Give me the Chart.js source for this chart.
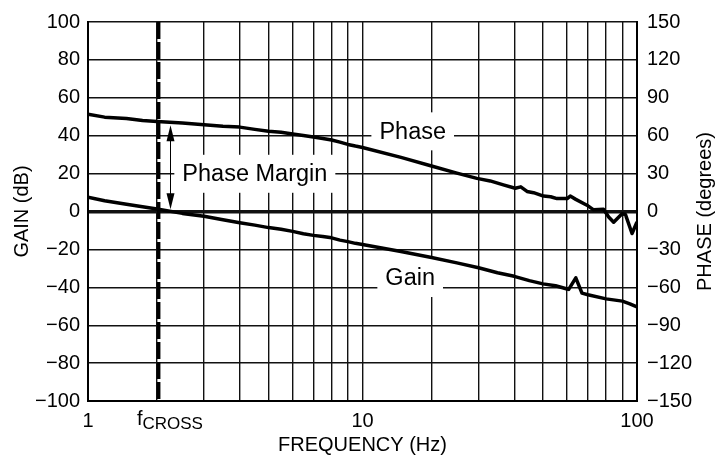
<!DOCTYPE html>
<html>
<head>
<meta charset="utf-8">
<script src="https://cdn.jsdelivr.net/npm/chart.js@4.4.0/dist/chart.umd.min.js"></script>
<style>
  html, body { margin: 0; padding: 0; background: #fff; }
</style>
</head>
<body>
<canvas id="bode" width="719" height="462"></canvas>
<script>
// values
const phaseFreq = [1, 1.2, 1.5, 1.75, 2, 2.5, 3, 3.5, 4, 4.5, 5, 5.5, 6, 6.5, 7, 7.5, 8, 8.5, 9, 9.5,
  10, 15, 20, 25, 29.6, 33, 36.7, 40.3, 42.1, 44.2, 46.5, 50.2, 53, 55.6, 60, 61.4, 64, 69.5, 73,
  78.5, 81.5, 84.5, 89.8, 92, 96.5, 100];
const phaseDeg = [77, 74.7, 73.7, 72, 71.2, 70, 68.7, 67.5, 66.8, 65, 63.5, 62.7, 61.4, 60.2, 59, 57.8, 56.6, 54.9, 53.1, 51.8,
  50.7, 42.8, 36, 30.4, 26.2, 24.2, 21.1, 18.4, 19.5, 15.9, 14.9, 12.2, 11.7, 10.2, 10.2, 12.2, 9.6, 5, 1.3,
  1.8, -4.4, -8.5, -1.8, -2.3, -17.4, -8.3];

const gainFreq = [1, 1.2, 1.5, 1.75, 2, 2.5, 3, 3.5, 4, 4.5, 5, 5.5, 6, 6.5, 7, 7.5, 8, 8.5, 9, 9.5,
  10, 15, 20, 25, 30, 35, 40, 45, 50, 55, 60, 60.7, 64, 67, 70, 80, 90, 95, 100];
const gainDb = [7.5, 5.7, 3.8, 2.5, 1.3, -1, -2.5, -4.4, -5.9, -7.2, -8.5, -9.4, -10.5, -11.7, -12.6, -13.2, -13.9, -15.1, -15.9, -16.8,
  -17.4, -21.1, -24.3, -27.1, -29.7, -32.3, -34.2, -36.5, -38.2, -39.2, -40.9, -41.1, -35, -43.1, -43.9, -46.1, -47.3, -48.7, -50.4];

const freqTicks = [1, 2, 3, 4, 5, 6, 7, 8, 9, 10, 20, 30, 40, 50, 60, 70, 80, 90, 100];
const freqTickLabels = [1, 10, 100];
const gainTicks = [-100, -80, -60, -40, -20, 0, 20, 40, 60, 80, 100];
const phaseTicks = [-150, -120, -90, -60, -30, 0, 30, 60, 90, 120, 150];

const fCross = 2.03;
const marginFreq = 2.25;     // where the phase margin arrow sits
const marginTop = 45.5;      // gain units (dB)
const marginBottom = 1.2;

const FONT = "'Liberation Sans', Arial, Helvetica, sans-serif";

// the printed grid is not a true log grid: each decade is squeezed toward its start
const WARP_C = 0.7;
function warp(v) {
    const d = Math.floor(Math.log10(v) + 1e-9);
    const m = v / Math.pow(10, d);
    return d + Math.log10((m + WARP_C) / (1 + WARP_C)) / Math.log10((10 + WARP_C) / (1 + WARP_C));
}
function unwarp(u) {
    const d = Math.floor(u);
    const frac = u - d;
    const m = (1 + WARP_C) * Math.pow((10 + WARP_C) / (1 + WARP_C), frac) - WARP_C;
    return m * Math.pow(10, d);
}

class WarpedLogScale extends Chart.LogarithmicScale {
    getPixelForValue(value) {
        if (value === undefined || value === null || isNaN(value)) return NaN;
        const a = warp(this.min), b = warp(this.max);
        return this.getPixelForDecimal((warp(value) - a) / (b - a));
    }
    getValueForPixel(pixel) {
        const a = warp(this.min), b = warp(this.max);
        return unwarp(a + this.getDecimalForPixel(pixel) * (b - a));
    }
}
WarpedLogScale.id = 'warpedLog';
WarpedLogScale.defaults = Chart.LogarithmicScale.defaults;
Chart.register(WarpedLogScale);

function minus(v) {
    return v < 0 ? '\u2212' + Math.abs(v) : String(v);
}

function labelBox(ctx, text, cx, cy) {
    ctx.font = '23.5px ' + FONT;
    const w = ctx.measureText(text).width + 16;
    const h = 38;
    ctx.fillStyle = '#fff';
    ctx.fillRect(cx - w / 2, cy - h / 2, w, h);
    ctx.fillStyle = '#000';
    ctx.textAlign = 'center';
    ctx.textBaseline = 'middle';
    ctx.fillText(text, cx, cy + 1);
}

const annotations = {
    id: 'annotations',
    beforeDatasetsDraw(chart) {
        const {ctx, chartArea: a, scales: {x, y}} = chart;
        ctx.save();
        labelBox(ctx, 'Phase', x.getPixelForValue(16.8), y.getPixelForValue(42.3));
        labelBox(ctx, 'Gain', x.getPixelForValue(16.4), y.getPixelForValue(-35.1));
        labelBox(ctx, 'Phase Margin', x.getPixelForValue(4.5), y.getPixelForValue(19.9));

        // f_cross marker
        const xc = x.getPixelForValue(fCross);
        ctx.strokeStyle = '#000';
        ctx.lineWidth = 3.5;
        ctx.setLineDash([17, 3]);
        ctx.beginPath();
        ctx.moveTo(xc, a.top);
        ctx.lineTo(xc, a.bottom);
        ctx.stroke();
        ctx.setLineDash([]);

        // phase margin arrow
        const xm = Math.round(x.getPixelForValue(marginFreq)) + 0.5;
        const y1 = y.getPixelForValue(marginTop);
        const y2 = y.getPixelForValue(marginBottom);
        ctx.lineWidth = 1;
        ctx.beginPath();
        ctx.moveTo(xm, y1 + 10);
        ctx.lineTo(xm, y2 - 10);
        ctx.stroke();
        ctx.fillStyle = '#000';
        ctx.beginPath();
        ctx.moveTo(xm, y1);
        ctx.lineTo(xm - 4, y1 + 16);
        ctx.lineTo(xm + 4, y1 + 16);
        ctx.closePath();
        ctx.fill();
        ctx.beginPath();
        ctx.moveTo(xm, y2);
        ctx.lineTo(xm - 4, y2 - 16);
        ctx.lineTo(xm + 4, y2 - 16);
        ctx.closePath();
        ctx.fill();
        ctx.restore();
    },
    afterDraw(chart) {
        const {ctx, chartArea: a} = chart;
        ctx.save();
        ctx.fillStyle = '#000';
        ctx.font = '20px ' + FONT;
        ctx.textAlign = 'center';
        ctx.textBaseline = 'middle';
        ctx.fillText('FREQUENCY (Hz)', (a.left + a.right) / 2, 445);

        ctx.save();
        ctx.translate(22, (a.top + a.bottom) / 2);
        ctx.rotate(-Math.PI / 2);
        ctx.fillText('GAIN (dB)', 0, 0);
        ctx.restore();

        ctx.save();
        ctx.translate(705, (a.top + a.bottom) / 2);
        ctx.rotate(-Math.PI / 2);
        ctx.fillText('PHASE (degrees)', 0, 0);
        ctx.restore();

        // f_CROSS label under the axis
        ctx.textAlign = 'left';
        ctx.textBaseline = 'alphabetic';
        ctx.font = '20px ' + FONT;
        ctx.fillText('f', 137, 425);
        ctx.font = '17px ' + FONT;
        ctx.fillText('CROSS', 142.5, 429);
        ctx.restore();
    }
};

const tickFont = { family: FONT, size: 20 };

new Chart(document.getElementById('bode'), {
    type: 'line',
    data: {
        datasets: [{
            label: 'Phase',
            data: phaseFreq.map((f, i) => ({ x: f, y: phaseDeg[i] })),
            yAxisID: 'y1',
            borderColor: '#000',
            borderWidth: 3.5,
            borderJoinStyle: 'round',
            pointRadius: 0,
            fill: false,
            tension: 0
        }, {
            label: 'Gain',
            data: gainFreq.map((f, i) => ({ x: f, y: gainDb[i] })),
            yAxisID: 'y',
            borderColor: '#000',
            borderWidth: 3.5,
            borderJoinStyle: 'round',
            pointRadius: 0,
            fill: false,
            tension: 0
        }]
    },
    options: {
        responsive: false,
        animation: false,
        layout: { padding: { top: 16 } },
        plugins: {
            legend: { display: false },
            tooltip: { enabled: false }
        },
        scales: {
            x: {
                type: 'warpedLog',
                min: 1,
                max: 100,
                afterBuildTicks: s => { s.ticks = freqTicks.map(v => ({ value: v })); },
                afterFit: s => { s.height = 61; },
                ticks: {
                    autoSkip: false,
                    maxRotation: 0,
                    padding: 8,
                    color: '#000',
                    font: tickFont,
                    callback: v => freqTickLabels.includes(v) ? String(v) : ''
                },
                grid: { color: '#111', lineWidth: 1.4, drawTicks: false },
                border: { color: '#000', width: 2 }
            },
            y: {
                position: 'left',
                min: -100,
                max: 100,
                afterBuildTicks: s => { s.ticks = gainTicks.map(v => ({ value: v })); },
                afterFit: s => { s.width = 88; },
                ticks: { padding: 8, color: '#000', font: tickFont, callback: v => minus(v) },
                grid: {
                    color: '#111',
                    lineWidth: c => (c.tick && c.tick.value === 0 ? 3.5 : 1.4),
                    drawTicks: false
                },
                border: { color: '#000', width: 2 }
            },
            y1: {
                position: 'right',
                min: -150,
                max: 150,
                afterBuildTicks: s => { s.ticks = phaseTicks.map(v => ({ value: v })); },
                afterFit: s => { s.width = 82; },
                ticks: { padding: 10, color: '#000', font: tickFont, callback: v => minus(v) },
                grid: { display: false, drawTicks: false },
                border: { color: '#000', width: 2 }
            }
        }
    },
    plugins: [annotations]
});
</script>
</body>
</html>
